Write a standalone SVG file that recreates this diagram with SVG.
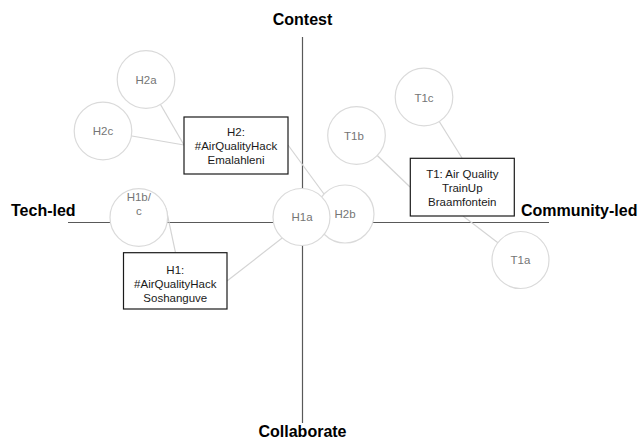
<svg xmlns="http://www.w3.org/2000/svg" width="638" height="441" viewBox="0 0 638 441">
<style>
.axis{stroke:#595959;stroke-width:1.2;fill:none}
.conn{stroke:#d4d4d4;stroke-width:1.2;fill:none}
.circ{fill:#fff;stroke:#dadada;stroke-width:1.2}
.box{fill:#fff;stroke:#1a1a1a;stroke-width:1.2}
.ct{font-family:"Liberation Sans",Arial,sans-serif;font-size:11.5px;fill:#757575;text-anchor:middle}
.bt{font-family:"Liberation Sans",Arial,sans-serif;font-size:11.5px;fill:#1a1a1a;text-anchor:middle}
.lab{font-family:"Liberation Sans",Arial,sans-serif;font-size:16px;font-weight:bold;fill:#000}
</style>
<rect width="638" height="441" fill="#fff"/>
<g id="axes">
<line class="axis" x1="302.5" y1="37" x2="302.5" y2="423"/>
<line class="axis" x1="68" y1="222.5" x2="549" y2="222.5"/>
<text class="lab" x="302.5" y="25" text-anchor="middle">Contest</text>
<text class="lab" x="302.5" y="437" text-anchor="middle">Collaborate</text>
<text class="lab" x="11" y="216">Tech-led</text>
<text class="lab" x="521" y="216">Community-led</text>
</g>
<g id="connectors">
<line class="conn" x1="146" y1="79.5" x2="184" y2="145"/>
<line class="conn" x1="103" y1="131" x2="184" y2="145"/>
<line class="conn" x1="288" y1="145" x2="335" y2="209"/>
<line class="conn" x1="166" y1="208" x2="175.5" y2="252.7"/>
<line class="conn" x1="227" y1="281" x2="295" y2="228"/>
<line class="conn" x1="424" y1="97" x2="462" y2="158"/>
<line class="conn" x1="356.5" y1="135.5" x2="410" y2="187"/>
<line class="conn" x1="463" y1="216" x2="520.5" y2="260"/>
</g>
<g id="H2a"><circle class="circ" cx="146" cy="79.5" r="28.8"/><text class="ct" x="146" y="83.5">H2a</text></g>
<g id="H2c"><circle class="circ" cx="103" cy="131" r="28.8"/><text class="ct" x="103" y="135">H2c</text></g>
<g id="H1bc"><circle class="circ" cx="138.8" cy="217.5" r="28.8"/><text class="ct" x="138.8" y="200.8">H1b/</text><text class="ct" x="138.8" y="214.8">c</text></g>
<g id="H2b"><circle class="circ" cx="345" cy="214" r="29"/><text class="ct" x="345" y="218">H2b</text></g>
<g id="H1a"><circle class="circ" cx="301.5" cy="217" r="28.5"/><text class="ct" x="302" y="221">H1a</text></g>
<g id="T1c"><circle class="circ" cx="424" cy="97" r="28.8"/><text class="ct" x="424" y="101.5">T1c</text></g>
<g id="T1b"><circle class="circ" cx="356.5" cy="135.5" r="28.8"/><text class="ct" x="354" y="140">T1b</text></g>
<g id="T1a"><circle class="circ" cx="520.5" cy="260" r="28.5"/><text class="ct" x="520.5" y="264">T1a</text></g>
<g id="H2"><rect class="box" x="184" y="117" width="104" height="57"/>
<text class="bt" x="236" y="136">H2:</text><text class="bt" x="236" y="150">#AirQualityHack</text><text class="bt" x="236" y="164.3">Emalahleni</text></g>
<g id="H1"><rect class="box" x="123.5" y="252.7" width="103.5" height="56.3"/>
<text class="bt" x="175.3" y="273.5">H1:</text><text class="bt" x="175.3" y="287.5">#AirQualityHack</text><text class="bt" x="175.3" y="301.5">Soshanguve</text></g>
<g id="T1"><rect class="box" x="410.3" y="158.3" width="104" height="57.7"/>
<text class="bt" x="462.3" y="178.3">T1: Air Quality</text><text class="bt" x="462.3" y="192">TrainUp</text><text class="bt" x="462.3" y="206.3">Braamfontein</text></g>
</svg>
